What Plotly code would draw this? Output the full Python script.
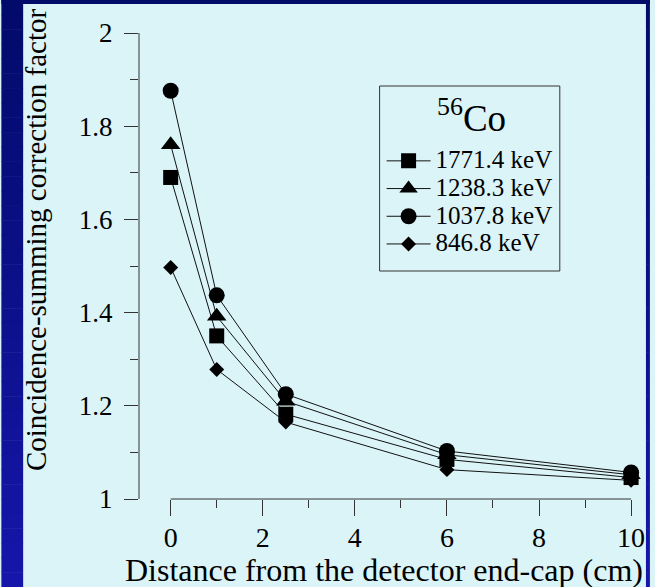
import plotly.graph_objects as go

# ---------------- data ----------------
distance_cm = [0, 1, 2.5, 6, 10]
series_names = ["1771.4 keV", "1238.3 keV", "1037.8 keV", "846.8 keV"]
csf_1771 = [1.690, 1.350, 1.182, 1.085, 1.046]
csf_1238 = [1.760, 1.392, 1.210, 1.095, 1.052]
csf_1037 = [1.876, 1.437, 1.225, 1.103, 1.057]
csf_846 = [1.497, 1.278, 1.165, 1.063, 1.040]
series_values = [csf_1771, csf_1238, csf_1037, csf_846]
series_symbols = ["square", "triangle-up", "circle", "diamond"]
series_sizes = [15, 17, 16, 11.5]
x_ticks = [0, 2, 4, 6, 8, 10]
y_ticks = [1, 1.2, 1.4, 1.6, 1.8, 2]
legend_title = "<sup>56</sup>Co"

W, H = 655, 587
L, R, T, B = 139, 645, 33, 499   # plot area in pixels
FONT = "Liberation Serif"
AX = "#333333"

def px(xp):
    return (xp - L) / (R - L)

def py(yp):
    return (B - yp) / (B - T)

fig = go.Figure()
for name, vals, sym, sz in zip(series_names, series_values, series_symbols, series_sizes):
    fig.add_trace(go.Scatter(
        x=distance_cm, y=vals, mode="lines+markers",
        name='<span style="font-size:25px">%s</span>' % name,
        line=dict(color="#111111", width=1),
        marker=dict(symbol=sym, size=sz, color="black"),
        cliponaxis=False,
    ))

shapes = []
# background: light panel with dark blue gradient border
n = 40
top_c = (2, 10, 106)
bot_c = (22, 22, 170)
for i in range(n):
    f = i / (n - 1)
    c = tuple(int(round(top_c[k] + (bot_c[k] - top_c[k]) * f)) for k in range(3))
    col = "rgb(%d,%d,%d)" % c
    y0 = H * i / n
    y1 = H * (i + 1) / n + 0.5
    for xa, xb in [(0, 22), (651, W)]:
        shapes.append(dict(type="rect", xref="paper", yref="paper", layer="below",
                           x0=px(xa), x1=px(xb), y0=py(y1), y1=py(y0),
                           line=dict(width=0), fillcolor=col))
shapes.append(dict(type="rect", xref="paper", yref="paper", layer="below",
                   x0=px(0), x1=px(W), y0=py(4), y1=py(0),
                   line=dict(width=0), fillcolor="rgb(2,10,106)"))
# detached axis lines
shapes.append(dict(type="line", xref="paper", yref="y", x0=0, x1=0, y0=y_ticks[0], y1=y_ticks[-1],
                   line=dict(color=AX, width=1)))
shapes.append(dict(type="line", xref="x", yref="paper", x0=x_ticks[0], x1=x_ticks[-1], y0=0, y1=0,
                   line=dict(color=AX, width=1)))
# legend frame
shapes.append(dict(type="rect", xref="paper", yref="paper", layer="below",
                   x0=px(382), x1=px(564), y0=py(271), y1=py(86),
                   line=dict(color=AX, width=1), fillcolor="rgba(0,0,0,0)"))

x0_px = 171
x10_px = 636
unit = (x10_px - x0_px) / 10
xr = [(L - x0_px) / unit, (R - x0_px) / unit]

fig.update_layout(
    width=W, height=H,
    margin=dict(l=L, r=W - R, t=T, b=H - B, pad=0),
    paper_bgcolor="#dbf4f8", plot_bgcolor="rgba(0,0,0,0)",
    font=dict(family=FONT, color="black", size=27),
    shapes=shapes,
    showlegend=True,
    legend=dict(
        x=px(384), y=py(142), xanchor="left", yanchor="top",
        bgcolor="rgba(0,0,0,0)", borderwidth=0,
        font=dict(family=FONT, size=19, color="black"),
        tracegroupgap=0, itemwidth=44,
    ),
    xaxis=dict(
        range=xr, showgrid=False, zeroline=False, showline=False,
        tickmode="array", tickvals=x_ticks, ticktext=[str(v) for v in x_ticks],
        ticks="outside", ticklen=16, tickcolor=AX, tickwidth=1,
        minor=dict(tickmode="array", tickvals=[1, 3, 5, 7, 9], ticks="outside",
                   ticklen=8, tickcolor=AX, tickwidth=1),
        tickfont=dict(family=FONT, size=28),
        ticklabelstandoff=-3,
    ),
    yaxis=dict(
        range=[1, 2], showgrid=False, zeroline=False, showline=False,
        tickmode="array", tickvals=y_ticks, ticktext=["1", "1.2", "1.4", "1.6", "1.8", "2"],
        ticks="outside", ticklen=14, tickcolor=AX, tickwidth=1,
        minor=dict(tickmode="array", tickvals=[1.1, 1.3, 1.5, 1.7, 1.9], ticks="outside",
                   ticklen=8, tickcolor=AX, tickwidth=1),
        tickfont=dict(family=FONT, size=27),
        ticklabelstandoff=6,
    ),
    annotations=[
        dict(text=legend_title, xref="paper", yref="paper",
             x=px(475), y=py(115), xanchor="center", yanchor="middle", showarrow=False,
             font=dict(family=FONT, size=37, color="black")),
        dict(text="Distance from the detector end-cap (cm)", xref="paper", yref="paper",
             x=px(386), y=py(570), xanchor="center", yanchor="middle", showarrow=False,
             font=dict(family=FONT, size=32, color="black")),
        dict(text="Coincidence-summing correction factor", xref="paper", yref="paper",
             x=px(35), y=py(240), xanchor="center", yanchor="middle", showarrow=False,
             textangle=-90, font=dict(family=FONT, size=29, color="black")),
    ],
)

fig.write_html("out.html")
